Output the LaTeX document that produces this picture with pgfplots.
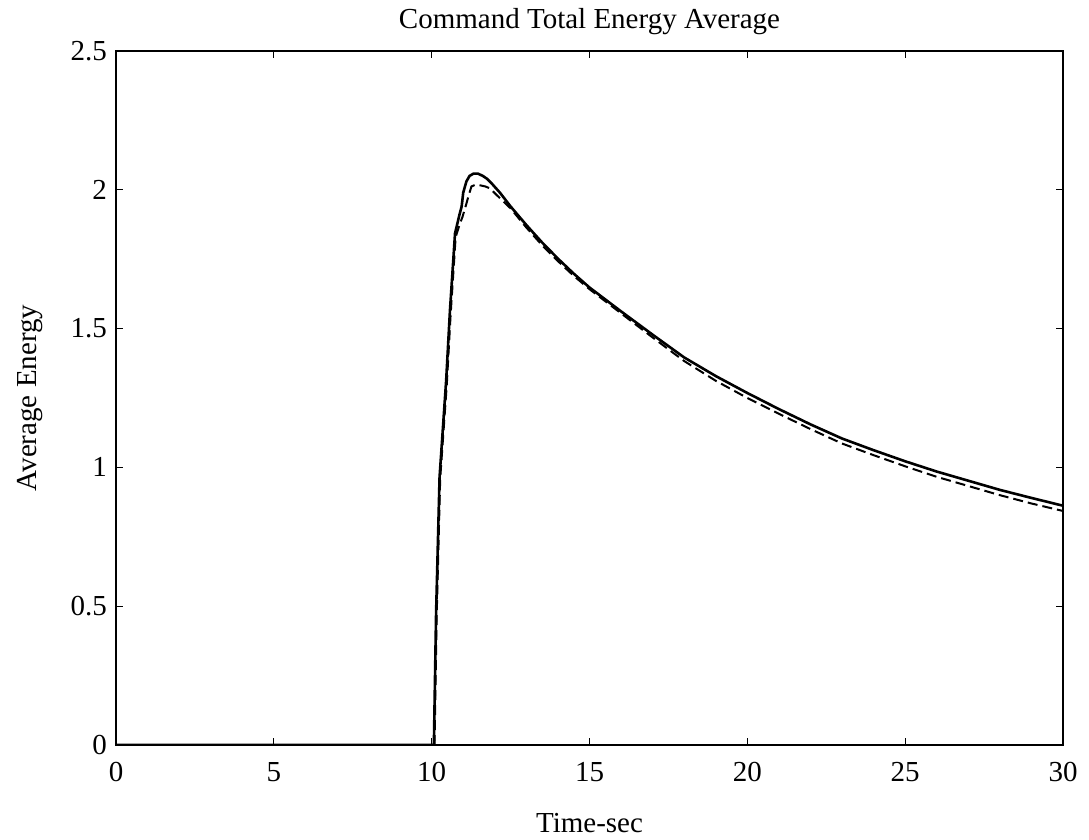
\documentclass[border=0pt]{standalone}
\usepackage{fontspec}
\setmainfont{Liberation Serif}
\usepackage{pgfplots}
\pgfplotsset{compat=1.18}
\begin{document}
\begin{tikzpicture}
\begin{axis}[
  name=ax,
  scale only axis,
  width=473.5pt, height=347pt,
  xmin=0, xmax=30, ymin=0, ymax=2.5,
  xtick={0,5,...,30},
  ytick={0,0.5,1,1.5,2,2.5},
  yticklabels={0,0.5,1,1.5,2,2.5},
  tick align=inside,
  major tick length=3.5pt,
  tick style={black, line width=0.6pt},
  axis line style={line width=0.9pt},
  font=\fontsize{14.5}{17}\selectfont,
  /pgf/number format/assume math mode=true,
  xticklabel style={yshift=-5pt},
  yticklabel style={xshift=-1pt},
  title={Command Total Energy Average},
  title style={at={(axis description cs:0.5,1)}, anchor=center, inner sep=0pt, yshift=8.5pt},
  xlabel={Time-sec},
  xlabel style={at={(axis description cs:0.5,0)}, anchor=center, inner sep=0pt, yshift=-39pt},
  ylabel={Average Energy},
  ylabel style={at={(axis description cs:-0.0908,0.5)}, anchor=center, inner sep=0pt},
]
\addplot[black, line width=1.3pt] coordinates {
(0,0) (10.07,0) (10.14,0.475) (10.25,0.965) (10.46,1.315) (10.58,1.567)
(10.74,1.843) (10.88,1.91) (10.95,1.94) (11.0,1.99) (11.1,2.03) (11.2,2.05)
(11.32,2.058) (11.47,2.058) (11.62,2.05) (11.75,2.04)
(11.9,2.023) (12.16,1.99) (12.5,1.94) (13,1.873) (13.5,1.81) (14,1.752) (14.5,1.698) (15,1.648)
(16,1.562) (17,1.478) (18,1.396) (19,1.329) (20,1.268) (21,1.21) (22,1.155)
(23,1.104) (24,1.062) (25,1.022) (26,0.985) (27,0.952) (28,0.919)
(29,0.89) (30,0.862)
};
\addplot[black, line width=1pt, dash pattern=on 5pt off 2.5pt] coordinates {
(10.09,0) (10.16,0.47) (10.27,0.96) (10.48,1.30) (10.6,1.55)
(10.76,1.83) (10.9,1.88) (10.97,1.90) (11.1,1.95) (11.16,1.975) (11.26,2.012)
(11.38,2.018) (11.5,2.017) (11.7,2.012) (11.85,2.005) (12.06,1.981) (12.5,1.933) (13,1.864)
(13.5,1.80) (14,1.743) (14.5,1.69) (15,1.642) (16,1.555) (17,1.468) (18,1.383) (19,1.312)
(20,1.250) (21,1.193) (22,1.138) (23,1.086) (24,1.044) (25,1.004)
(26,0.966) (27,0.933) (28,0.9) (29,0.87) (30,0.843)
};
\end{axis}
\pgfresetboundingbox
\path ([xshift=-58pt,yshift=-47pt]ax.south west) rectangle ([xshift=13pt,yshift=25.5pt]ax.north east);
\end{tikzpicture}
\end{document}
